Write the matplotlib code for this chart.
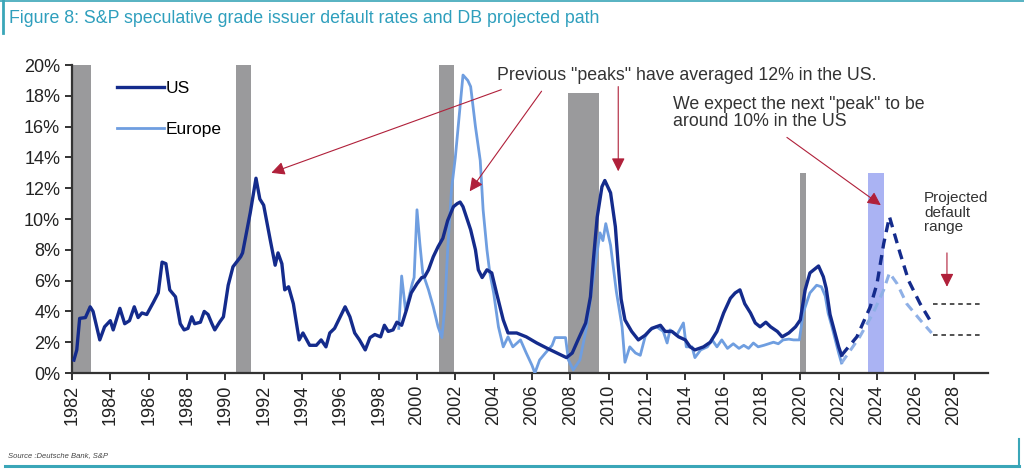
import matplotlib.pyplot as plt
from matplotlib.lines import Line2D

plt.rcParams['font.family'] = ['Liberation Sans', 'DejaVu Sans']

# US speculative grade default rate (%)
us_year = [1982.1, 1982.25, 1982.4, 1982.7, 1982.95, 1983.1, 1983.45, 1983.7, 1984.0, 1984.15,
           1984.5, 1984.75, 1985.0, 1985.25, 1985.45, 1985.65, 1985.9, 1986.25, 1986.5, 1986.7,
           1986.9, 1987.1, 1987.4, 1987.65, 1987.85, 1988.05, 1988.25, 1988.4, 1988.7, 1988.9,
           1989.1, 1989.3, 1989.45, 1989.7, 1989.9, 1990.15, 1990.4, 1990.8, 1990.9, 1991.3,
           1991.6, 1991.8, 1992.0, 1992.35, 1992.6, 1992.75, 1992.95, 1993.1, 1993.3, 1993.55,
           1993.85, 1994.05, 1994.4, 1994.75, 1995.0, 1995.25, 1995.45, 1995.7, 1996.25, 1996.5,
           1996.75, 1997.0, 1997.3, 1997.55, 1997.8, 1998.1, 1998.3, 1998.5, 1998.75, 1998.95,
           1999.2, 1999.45, 1999.7, 2000.0, 2000.25, 2000.4, 2000.6, 2000.85, 2001.1, 2001.35,
           2001.6, 2001.9, 2002.1, 2002.25, 2002.4, 2002.8, 2003.05, 2003.2, 2003.4, 2003.65,
           2003.9, 2004.15, 2004.5, 2004.75, 2005.2, 2005.7, 2006.25, 2006.8, 2007.3, 2007.8,
           2008.1, 2008.4, 2008.8, 2009.05, 2009.2, 2009.4, 2009.65, 2009.8, 2010.1, 2010.35,
           2010.5, 2010.65, 2010.85, 2011.2, 2011.55, 2011.9, 2012.25, 2012.7, 2012.95, 2013.3,
           2013.65, 2014.0, 2014.25, 2014.5, 2014.95, 2015.3, 2015.65, 2016.0, 2016.35, 2016.6,
           2016.85, 2017.1, 2017.4, 2017.65, 2017.9, 2018.2, 2018.45, 2018.8, 2019.05, 2019.4,
           2019.75, 2020.0, 2020.25, 2020.5, 2020.95, 2021.2, 2021.35, 2021.55, 2022.0, 2022.15]
us_rate = [0.84, 1.5, 3.55, 3.6, 4.3, 4.0, 2.15, 3.0, 3.4, 2.8,
           4.2, 3.2, 3.4, 4.3, 3.6, 3.9, 3.8, 4.6, 5.2, 7.2,
           7.1, 5.4, 4.95, 3.2, 2.8, 2.9, 3.65, 3.2, 3.3, 4.0,
           3.8, 3.2, 2.8, 3.3, 3.65, 5.7, 6.9, 7.55, 7.8, 10.4,
           12.65, 11.3, 10.9, 8.6, 7.0, 7.8, 7.1, 5.4, 5.6, 4.5,
           2.15, 2.6, 1.8, 1.8, 2.15, 1.7, 2.6, 2.9, 4.3, 3.65,
           2.6, 2.15, 1.5, 2.3, 2.5, 2.35, 3.1, 2.7, 2.8, 3.3,
           3.1, 4.1, 5.2, 5.8, 6.2, 6.25, 6.7, 7.55, 8.2, 8.75,
           9.9, 10.8, 11.0, 11.1, 10.8, 9.3, 8.0, 6.7, 6.2, 6.7,
           6.5, 5.2, 3.45, 2.6, 2.6, 2.35, 1.95, 1.6, 1.3, 1.0,
           1.3, 2.15, 3.25, 4.95, 7.3, 10.1, 12.1, 12.5, 11.7, 9.5,
           7.0, 4.8, 3.45, 2.7, 2.15, 2.45, 2.9, 3.1, 2.7, 2.7,
           2.35, 2.15, 1.7, 1.5, 1.7, 2.0, 2.7, 3.9, 4.85, 5.2,
           5.4, 4.5, 3.9, 3.25, 3.0, 3.3, 3.0, 2.7, 2.35, 2.6,
           3.0, 3.45, 5.4, 6.5, 6.95, 6.25, 5.5, 3.8, 1.7, 1.15]

# Europe speculative grade default rate (%)
eu_year = [1999.05, 1999.2, 1999.4, 1999.55, 1999.75, 1999.85, 2000.0, 2000.15, 2000.3, 2000.6,
           2000.85, 2001.1, 2001.3, 2001.45, 2001.6, 2001.8, 2002.0, 2002.15, 2002.4, 2002.65,
           2002.8, 2003.05, 2003.3, 2003.45, 2003.65, 2003.8, 2004.0, 2004.25, 2004.5, 2004.75,
           2005.0, 2005.4, 2005.7, 2006.0, 2006.15, 2006.4, 2006.7, 2007.05, 2007.2, 2007.75,
           2007.9, 2008.15, 2008.5, 2008.85, 2009.2, 2009.55, 2009.7, 2009.85, 2010.1, 2010.4,
           2010.7, 2010.85, 2011.1, 2011.4, 2011.65, 2011.9, 2012.15, 2012.5, 2012.85, 2013.05,
           2013.2, 2013.55, 2013.9, 2014.05, 2014.35, 2014.5, 2014.8, 2015.15, 2015.4, 2015.65,
           2015.9, 2016.2, 2016.5, 2016.8, 2017.05, 2017.3, 2017.55, 2017.8, 2018.1, 2018.35,
           2018.6, 2018.85, 2019.1, 2019.4, 2019.65, 2019.95, 2020.15, 2020.5, 2020.85, 2021.1,
           2021.3, 2021.45, 2021.65, 2022.0, 2022.15]
eu_rate = [2.9, 6.3, 4.1, 4.75, 5.8, 6.2, 10.6, 8.4, 6.5, 5.4,
           4.3, 3.0, 2.3, 4.3, 8.0, 11.9, 14.0, 16.0, 19.35, 19.0,
           18.6, 16.0, 13.8, 10.6, 8.0, 6.5, 5.2, 3.0, 1.7, 2.35,
           1.7, 2.15, 1.3, 0.5, 0.0, 0.85, 1.3, 1.8, 2.3, 2.3,
           0.85, 0.2, 0.85, 3.0, 6.2, 9.1, 8.6, 9.7, 8.3, 5.3,
           3.0, 0.7, 1.7, 1.3, 1.15, 2.35, 2.8, 3.0, 2.7, 1.95,
           2.8, 2.45, 3.25, 1.7, 1.7, 1.0, 1.5, 1.7, 2.15, 1.7,
           2.15, 1.6, 1.9, 1.6, 1.8, 1.6, 1.95, 1.7, 1.8, 1.9,
           2.0, 1.9, 2.15, 2.2, 2.15, 2.15, 3.9, 5.2, 5.7, 5.6,
           5.0, 3.9, 3.0, 1.3, 0.65]

# DB projected paths (%)
us_proj_year = [2022.15, 2022.95, 2023.65, 2024.0, 2024.35, 2024.65, 2025.2, 2025.65, 2026.25, 2026.85]
us_proj = [1.15, 2.35, 4.3, 5.8, 8.4, 10.15, 7.8, 6.0, 4.5, 3.25]
eu_proj_year = [2022.15, 2023.1, 2023.8, 2024.35, 2024.65, 2025.05, 2025.55, 2026.25, 2026.85]
eu_proj = [0.65, 2.35, 3.9, 5.4, 6.5, 5.8, 4.5, 3.45, 2.6]

# projected default range (%)
range_levels = [4.5, 2.5]
range_start, range_end = 2026.9, 2029.5

# recession shading
rec_start = [1982.05, 1990.55, 2001.15, 2007.9, 2020.0]
rec_end = [1983.0, 1991.35, 2001.95, 2009.5, 2020.3]
rec_top = [20, 20, 20, 18.2, 13]
proj_bar = (2023.55, 2024.35, 13)

us_col = '#142b8c'
eu_col = '#6f9ee0'
red = '#b0203a'

fig = plt.figure(figsize=(10.24, 4.75), dpi=100)
ax = fig.add_axes([0.0703, 0.2147, 0.8947, 0.6484])

for s, e, t in zip(rec_start, rec_end, rec_top):
    ax.bar(s, t, width=e - s, align='edge', color='#9a9a9c', zorder=1)
ax.bar(proj_bar[0], proj_bar[2], width=proj_bar[1] - proj_bar[0], align='edge', color='#aab3f3', zorder=1)

ax.plot(eu_year, eu_rate, color=eu_col, lw=2.0, zorder=3, label='Europe')
ax.plot(us_year, us_rate, color=us_col, lw=2.4, zorder=4, label='US')
ax.plot(eu_proj_year, eu_proj, color='#8fb0e6', lw=2.2, ls=(0, (3, 2)), zorder=3)
ax.plot(us_proj_year, us_proj, color=us_col, lw=2.4, ls=(0, (3, 2)), zorder=4)
for lvl in range_levels:
    ax.plot([range_start, range_end], [lvl, lvl], color='#222222', lw=1.1, ls=(0, (3, 2.5)), zorder=3)

ax.set_xlim(1982, 2029.8)
ax.set_ylim(0, 20)
ax.set_xticks(range(1982, 2029, 2))
ax.set_xticklabels([str(y) for y in range(1982, 2029, 2)], rotation=90, fontsize=13, color='#222222')
ax.set_yticks(range(0, 21, 2))
ax.set_yticklabels([f'{v}%' for v in range(0, 21, 2)], fontsize=13, color='#222222')
ax.tick_params(axis='both', direction='out', length=5, width=1.4, color='#333333')
for side in ['top', 'right']:
    ax.spines[side].set_visible(False)
for side in ['left', 'bottom']:
    ax.spines[side].set_linewidth(1.6)
    ax.spines[side].set_color('#333333')

h, l = ax.get_legend_handles_labels()
ax.legend([h[1], h[0]], [l[1], l[0]], loc='upper left', bbox_to_anchor=(0.032, 1.0), frameon=False,
          fontsize=12.5, labelspacing=1.5, handlelength=2.7, handletextpad=0.1)

# annotations
arrow = dict(arrowstyle='-|>', color=red, lw=0.8, mutation_scale=20, shrinkA=0, shrinkB=0)
ax.text(2004.2, 19.3, 'Previous "peaks" have averaged 12% in the US.', fontsize=12.8, color='#333333', va='center')
ax.annotate('', xy=(1992.4, 13.0), xytext=(2004.4, 18.4), arrowprops=arrow)
ax.annotate('', xy=(2002.75, 11.8), xytext=(2006.5, 18.3), arrowprops=arrow)
ax.annotate('', xy=(2010.5, 13.1), xytext=(2010.5, 18.6), arrowprops=arrow)
ax.text(2013.35, 18.0, 'We expect the next "peak" to be\naround 10% in the US', fontsize=12.8,
        color='#333333', va='top', linespacing=1.05)
ax.annotate('', xy=(2024.2, 10.9), xytext=(2019.3, 15.3), arrowprops=arrow)
ax.text(2026.45, 11.8, 'Projected\ndefault\nrange', fontsize=11, color='#333333', va='top', linespacing=1.05)
ax.annotate('', xy=(2027.65, 5.6), xytext=(2027.65, 7.8), arrowprops=arrow)

# title, source and frame
fig.text(0.009, 0.962, 'Figure 8: S&P speculative grade issuer default rates and DB projected path',
         fontsize=12.8, color='#2e9fbd', va='center')
fig.text(0.008, 0.042, 'Source :Deutsche Bank, S&P', fontsize=5.5, style='italic', color='#444444', va='center')
teal = '#3aa6b8'
fig.add_artist(Line2D([0.0, 1.0], [0.997, 0.997], color=teal, lw=1.2))
fig.add_artist(Line2D([0.003, 0.003], [0.93, 1.0], color=teal, lw=2))
fig.add_artist(Line2D([0.005, 0.995], [0.018, 0.018], color=teal, lw=2.2))
fig.add_artist(Line2D([0.995, 0.995], [0.018, 0.075], color=teal, lw=1.5))

fig.savefig('out.png', dpi=100)
